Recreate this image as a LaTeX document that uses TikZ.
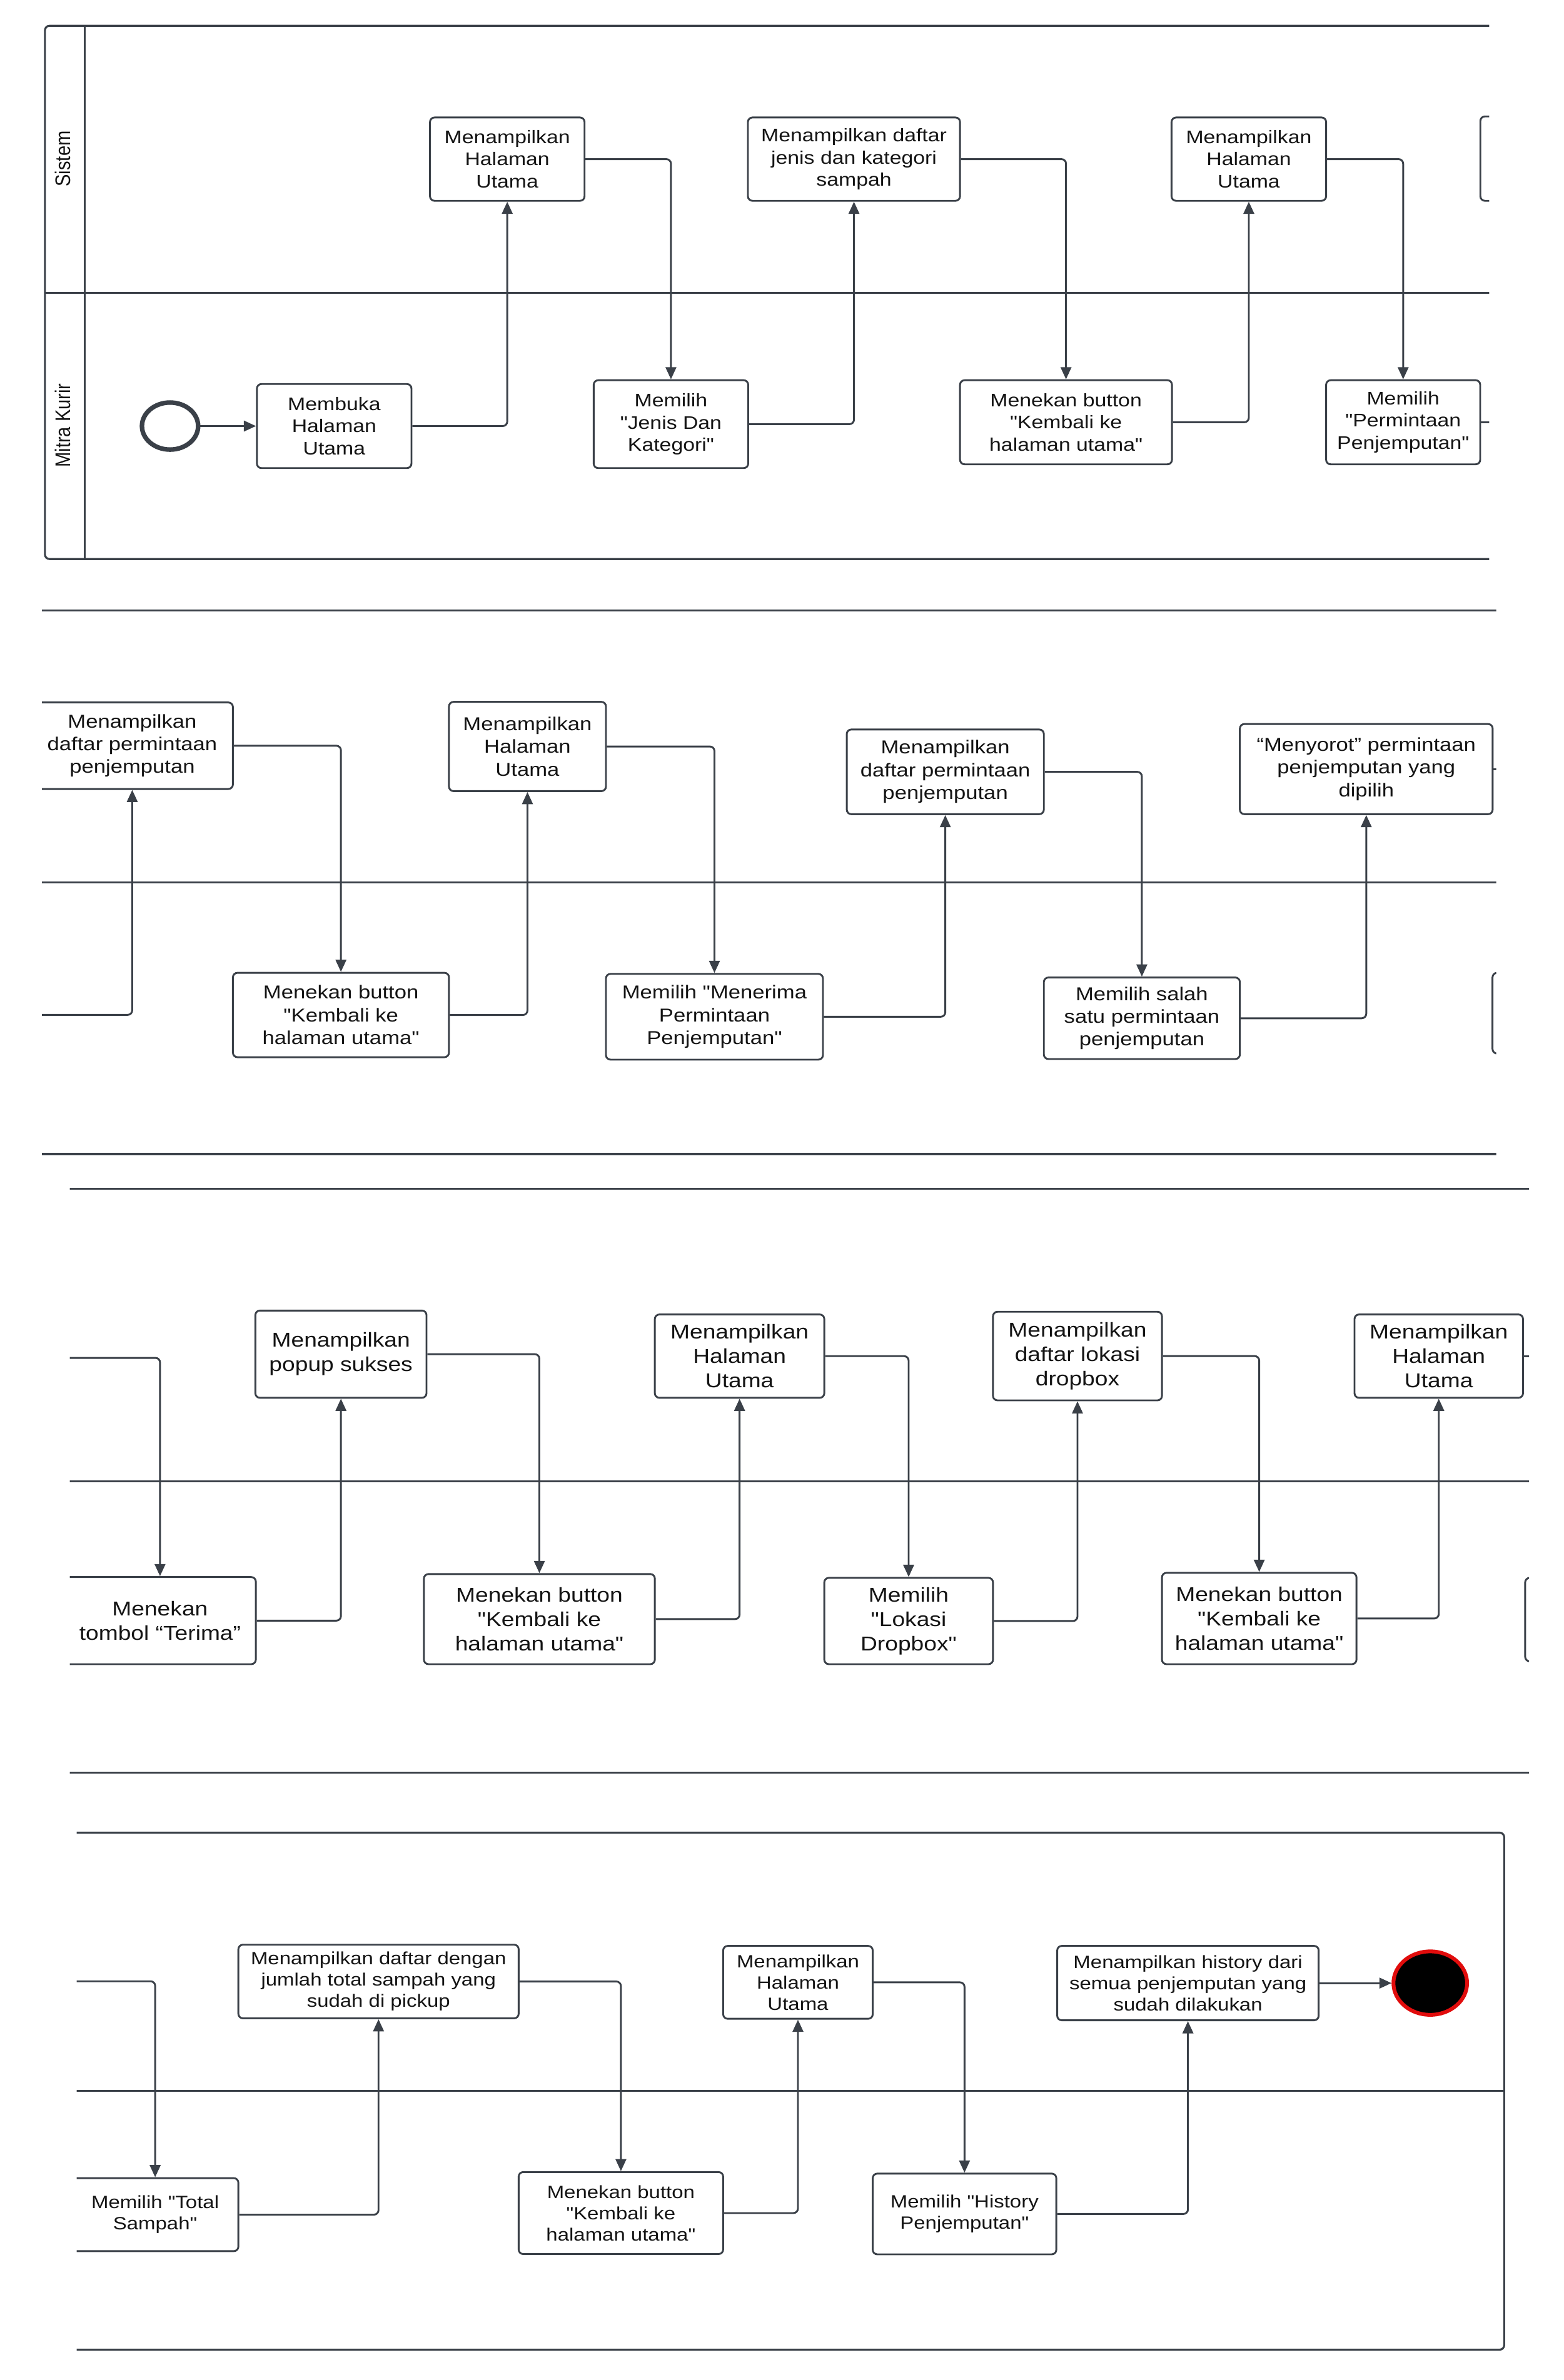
\documentclass[tikz,border=0pt]{standalone}
\usepackage{fontspec}
\usepackage{graphicx}
\usetikzlibrary{arrows.meta,shapes.geometric}
\newfontfamily\boxfont{Liberation Sans}[FakeStretch=1.16]
\newfontfamily\lanefont{Liberation Sans}
\definecolor{lc}{RGB}{58,64,72}
\definecolor{tc}{RGB}{20,20,20}
\definecolor{endred}{RGB}{225,12,12}

\begin{document}
\begin{tikzpicture}[x=1pt,y=-1pt,
  lane/.style={draw=lc, line width=1.3pt},
  act/.style={draw=lc, line width=1.2pt, rounded corners=3pt, fill=white,
    align=center, inner sep=0pt, text=tc},
  wh/.style 2 args={minimum width=#1pt, minimum height=#2pt},
  pa/.style={act, font=\boxfont\fontsize{12}{14.5}\selectfont},
  pb/.style={act, font=\boxfont\fontsize{12.3}{15}\selectfont},
  pc/.style={act, font=\boxfont\fontsize{13.2}{16}\selectfont},
  pd/.style={act, font=\boxfont\fontsize{11.7}{14}\selectfont},
  flow/.style={draw=lc, line width=1.2pt, rounded corners=3pt,
    -{Triangle[length=8pt,width=7pt]}},
  link/.style={draw=lc, line width=1.2pt},
  lanelabel/.style={rotate=90, text=tc, inner sep=0pt,
    font=\lanefont\fontsize{12}{14}\selectfont},
]
\fill[white] (0,0) rectangle (1030,1568);
\useasboundingbox (0,0) rectangle (1030,1568);

% ---------- part 1: pool with lane headers ----------
\begin{scope}
\clip (28,10) rectangle (980.8,375);
\draw[lane, rounded corners=3pt] (1000,17) -- (29.6,17) -- (29.6,368.3) -- (1000,368.3);
\draw[lane] (55.8,17) -- (55.8,368.3);
\draw[lane] (29.6,192.8) -- (1000,192.8);
\node[lanelabel] (lsys) at (41.5,104.6) {\scalebox{1}[1.16]{Sistem}};
\node[lanelabel] (lkurir) at (41.5,280.3) {\scalebox{1}[1.16]{Mitra Kurir}};

\node[draw=lc, line width=3pt, ellipse, minimum width=37pt, minimum height=31pt,
  inner sep=0pt] (init) at (112,280.7) {};
\node[pa, wh={101.8}{55.4}] (mb) at (220.1,280.7) {Membuka\\Halaman\\Utama};
\node[pa, wh={101.8}{54.9}] (hu1) at (334.1,104.85) {Menampilkan\\Halaman\\Utama};
\node[pa, wh={101.8}{57.9}] (jenis) at (441.9,279.45) {Memilih\\"Jenis Dan\\Kategori"};
\node[pa, wh={139.7}{54.9}] (djenis) at (562.45,104.85) {Menampilkan daftar\\jenis dan kategori\\sampah};
\node[pa, wh={139.6}{55.4}] (kb1) at (702.1,278.2) {Menekan button\\"Kembali ke\\halaman utama"};
\node[pa, wh={101.8}{54.9}] (hu2) at (822.5,104.85) {Menampilkan\\Halaman\\Utama};
\node[pa, wh={101.5}{55.4}] (perm) at (924.15,278.2) {Memilih\\"Permintaan\\Penjemputan"};
\node[pa, wh={100}{55.6}] (next1) at (1025,104.5) {};
\coordinate (out1) at (1000,278.2);

\draw[flow] (init.east) -- (mb.west);
\draw[flow] (mb.east) -| (hu1.south);
\draw[flow] (hu1.east) -| (jenis.north);
\draw[flow] (jenis.east) -| (djenis.south);
\draw[flow] (djenis.east) -| (kb1.north);
\draw[flow] (kb1.east) -| (hu2.south);
\draw[flow] (hu2.east) -| (perm.north);
\draw[link] (perm.east) -- (out1);
\end{scope}

% ---------- part 2 ----------
\begin{scope}
\clip (27.6,395) rectangle (985.4,767);
\draw[lane] (20,402.3) -- (1000,402.3);
\draw[lane] (20,581.3) -- (1000,581.3);
\draw[lane] (20,760.3) -- (1000,760.3);

\node[pb, wh={132.6}{57}] (dpa) at (87.1,491.3) {Menampilkan\\daftar permintaan\\penjemputan};
\node[pb, wh={142.3}{55.6}] (kb2) at (224.55,668.7) {Menekan button\\"Kembali ke\\halaman utama"};
\node[pb, wh={103.4}{58.8}] (hu3) at (347.4,491.8) {Menampilkan\\Halaman\\Utama};
\node[pb, wh={142.9}{56.5}] (mnr) at (470.55,669.85) {Memilih "Menerima\\Permintaan\\Penjemputan"};
\node[pb, wh={129.8}{55.8}] (dpb) at (622.6,508.5) {Menampilkan\\daftar permintaan\\penjemputan};
\node[pb, wh={129.1}{53.7}] (salah) at (752.05,670.85) {Memilih salah\\satu permintaan\\penjemputan};
\node[pb, wh={166.5}{59.4}] (sorot) at (899.85,506.7) {“Menyorot” permintaan\\penjemputan yang\\dipilih};
\node[pb, wh={100}{53.2}] (next2) at (1033,667.5) {};
\coordinate (in2) at (10,668.6);
\coordinate (out2) at (1000,506.7);

\draw[flow] (in2) -| (dpa.south);
\draw[flow] (dpa.east) -| (kb2.north);
\draw[flow] (kb2.east) -| (hu3.south);
\draw[flow] (hu3.east) -| (mnr.north);
\draw[flow] (mnr.east) -| (dpb.south);
\draw[flow] (dpb.east) -| (salah.north);
\draw[flow] (salah.east) -| (sorot.south);
\draw[link] (sorot.east) -- (out2);
\end{scope}

% ---------- part 3 ----------
\begin{scope}
\clip (46,775) rectangle (1007.1,1172);
\draw[lane] (40,783) -- (1020,783);
\draw[lane] (40,975.8) -- (1020,975.8);
\draw[lane] (40,1167.7) -- (1020,1167.7);

\node[pc, wh={126.2}{57.4}] (ter) at (105.4,1067.7) {Menekan\\tombol “Terima”};
\node[pc, wh={112.7}{57.5}] (pop) at (224.55,892.15) {Menampilkan\\popup sukses};
\node[pc, wh={152.1}{59.4}] (kb3) at (355.25,1066.7) {Menekan button\\"Kembali ke\\halaman utama"};
\node[pc, wh={111.6}{54.9}] (hu4) at (487.1,893.45) {Menampilkan\\Halaman\\Utama};
\node[pc, wh={111.1}{56.9}] (lok) at (598.45,1067.95) {Memilih\\"Lokasi\\Dropbox"};
\node[pc, wh={111.3}{58.4}] (drop) at (709.65,893.4) {Menampilkan\\daftar lokasi\\dropbox};
\node[pc, wh={128.1}{60.2}] (kb4) at (829.35,1066.3) {Menekan button\\"Kembali ke\\halaman utama"};
\node[pc, wh={111}{54.9}] (hu5) at (947.6,893.45) {Menampilkan\\Halaman\\Utama};
\node[pc, wh={100}{55}] (next3) at (1054.5,1067) {};
\coordinate (in3) at (30,894.6);
\coordinate (out3) at (1020,893.45);

\draw[flow] (in3) -| (ter.north);
\draw[flow] (ter.east) -| (pop.south);
\draw[flow] (pop.east) -| (kb3.north);
\draw[flow] (kb3.east) -| (hu4.south);
\draw[flow] (hu4.east) -| (lok.north);
\draw[flow] (lok.east) -| (drop.south);
\draw[flow] (drop.east) -| (kb4.north);
\draw[flow] (kb4.east) -| (hu5.south);
\draw[link] (hu5.east) -- (out3);
\end{scope}

% ---------- part 4: closing part of the pool ----------
\begin{scope}
\clip (50.5,1200) rectangle (996,1556);
\draw[lane, rounded corners=3pt] (40,1207.4) -- (990.7,1207.4) -- (990.7,1548) -- (40,1548);
\draw[lane] (40,1377.6) -- (990.7,1377.6);

\node[pd, wh={109.6}{48.1}] (tot) at (102.2,1459.05) {Memilih "Total\\Sampah"};
\node[pd, wh={184.6}{48.5}] (dtot) at (249.3,1305.45) {Menampilkan daftar dengan\\jumlah total sampah yang\\sudah di pickup};
\node[pd, wh={134.7}{54}] (kb5) at (408.95,1458) {Menekan button\\"Kembali ke\\halaman utama"};
\node[pd, wh={98.5}{48}] (hu6) at (525.55,1306) {Menampilkan\\Halaman\\Utama};
\node[pd, wh={120.9}{53.2}] (hist) at (635.25,1458.6) {Memilih "History\\Penjemputan"};
\node[pd, wh={172.2}{49}] (mhist) at (782.4,1306.5) {Menampilkan history dari\\semua penjemputan yang\\sudah dilakukan};
\node[draw=endred, line width=2.5pt, fill=black, ellipse, minimum width=48.5pt,
  minimum height=41.8pt, inner sep=0pt] (fin) at (942,1306.5) {};
\coordinate (in4) at (30,1305.3);

\draw[flow] (in4) -| (tot.north);
\draw[flow] (tot.east) -| (dtot.south);
\draw[flow] (dtot.east) -| (kb5.north);
\draw[flow] (kb5.east) -| (hu6.south);
\draw[flow] (hu6.east) -| (hist.north);
\draw[flow] (hist.east) -| (mhist.south);
\draw[flow] (mhist.east) -- (fin.west);
\end{scope}
\end{tikzpicture}
\end{document}
